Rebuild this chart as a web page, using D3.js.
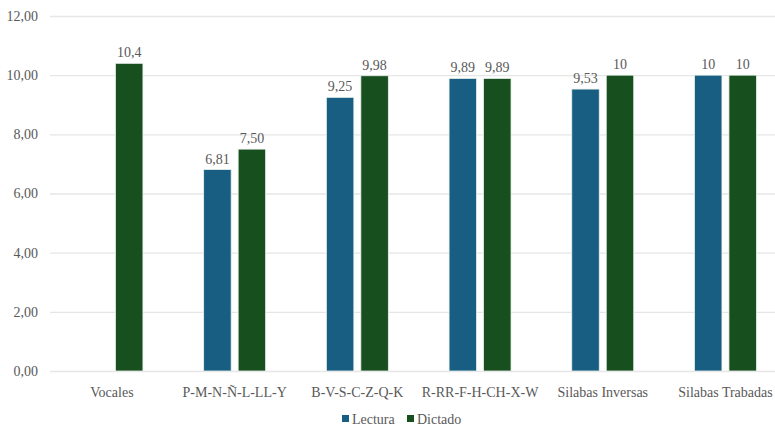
<!DOCTYPE html>
<html><head><meta charset="utf-8">
<script src="https://cdn.jsdelivr.net/npm/d3@7"></script>
<style>
body{margin:0;background:#fff;}
text{font-family:"Liberation Serif","DejaVu Serif",serif;fill:#595959;}
</style></head>
<body><svg id="c" width="775" height="428"></svg>
<script>
const categories = ["Vocales","P-M-N-Ñ-L-LL-Y","B-V-S-C-Z-Q-K","R-RR-F-H-CH-X-W","Silabas Inversas","Silabas Trabadas"];
const series = ["Lectura","Dictado"];
const lectura = [null, 6.81, 9.25, 9.89, 9.53, 10];
const dictado = [10.4, 7.50, 9.98, 9.89, 10, 10];
const lecturaLabels = ["", "6,81", "9,25", "9,89", "9,53", "10"];
const dictadoLabels = ["10,4", "7,50", "9,98", "9,89", "10", "10"];
const yTicks = [0,2,4,6,8,10,12];
const colors = {Lectura:"#175e82", Dictado:"#174f1e"};

const svg = d3.select("#c");
const fs = 14;
const x0 = d3.scaleBand().domain(categories).range([50.6, 786.8]).paddingInner(0.495).paddingOuter(0.2475);
const x1 = d3.scaleBand().domain(series).range([0, x0.bandwidth()]).paddingInner(0.203).paddingOuter(0);
const y = d3.scaleLinear().domain([0,12]).range([371, 16]);

// gridlines
const yAxis = d3.axisLeft(y).tickValues(yTicks).tickSize(-(775-50)).tickFormat(d => d3.format(".2f")(d).replace(".", ","));
const ga = svg.append("g").attr("transform","translate(50,0)").call(yAxis);
ga.select(".domain").remove();
ga.selectAll(".tick line").attr("stroke","#e6e6e6").attr("stroke-width",1.3);
ga.selectAll(".tick text").attr("x",-12).attr("font-size",fs).style("font-family",'"Liberation Serif",serif').attr("fill","#595959");

const data = categories.map((c,i)=>({cat:c, vals:[
  {s:"Lectura", v:lectura[i], lab:lecturaLabels[i]},
  {s:"Dictado", v:dictado[i], lab:dictadoLabels[i]}]}));

const g = svg.append("g");
const cg = g.selectAll("g.cat").data(data).join("g").attr("class","cat")
  .attr("transform", d=>`translate(${x0(d.cat)},0)`);
const bars = cg.selectAll("g.b").data(d=>d.vals.filter(v=>v.v!=null)).join("g").attr("class","b");
bars.append("rect")
  .attr("x", d=>x1(d.s)).attr("width", x1.bandwidth())
  .attr("y", d=>y(d.v)).attr("height", d=>y(0)-y(d.v))
  .attr("fill", d=>colors[d.s]).attr("stroke","#e8f0ea").attr("stroke-width",0.8);
bars.append("text")
  .attr("x", d=>x1(d.s)+x1.bandwidth()/2).attr("y", d=>y(d.v)-6)
  .attr("text-anchor","middle").attr("font-size",fs).text(d=>d.lab);

// x labels
const xAxis = d3.axisBottom(x0).tickSize(0).tickPadding(0);
const gx = svg.append("g").attr("transform","translate(0,371)").call(xAxis);
gx.select(".domain").remove();
gx.selectAll(".tick text").attr("y",26).attr("dy",0).attr("font-size",fs).style("font-family",'"Liberation Serif",serif').attr("fill","#595959");

// legend
const legX = [342, 407];
const lg = svg.append("g");
series.forEach((s,i)=>{
  lg.append("rect").attr("x",legX[i]).attr("y",415).attr("width",7).attr("height",7).attr("fill",colors[s]);
  lg.append("text").attr("x",legX[i]+10).attr("y",423.5).attr("font-size",fs).text(s);
});
</script></body></html>
